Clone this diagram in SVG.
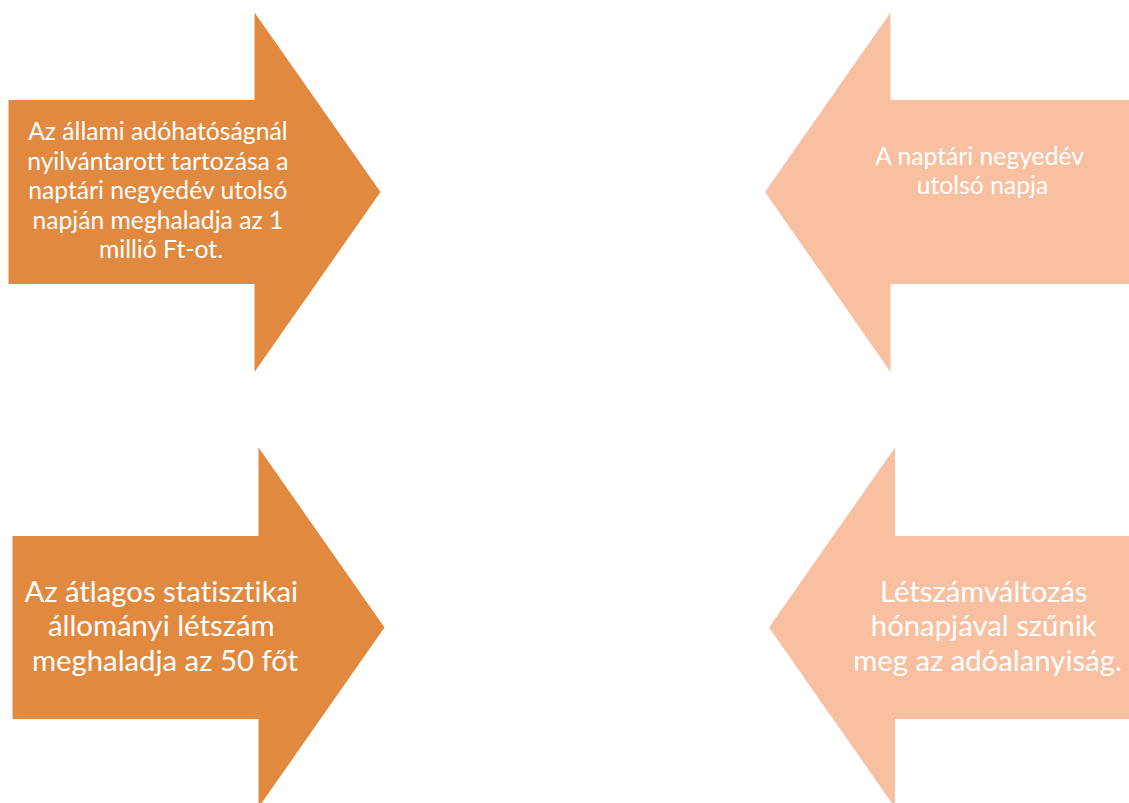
<svg xmlns="http://www.w3.org/2000/svg" width="1129" height="803" viewBox="0 0 1129 803">
  <style>
    .dark { fill: #E0893F; }
    .light { fill: #F8BFA0; }
    .label { fill: #FFFFFF; font-family: Lato, "Liberation Sans", sans-serif; text-anchor: middle; font-variant-ligatures: none; }
    .small { font-size: 24.7px; }
    .large { font-size: 29.3px; }
  </style>
  <rect width="1129" height="803" fill="#FFFFFF"/>

  <!-- top-left block arrow, pointing right -->
  <g id="node-debt">
    <polygon class="dark" points="8.5,100 254.5,100 254.5,12.5 380.5,192 254.5,372 254.5,284 8.5,284"/>
    <text class="label small">
      <tspan x="161" y="140">Az állami adóhatóságnál</tspan>
      <tspan x="161" y="169.5">nyilvántarott tartozása a</tspan>
      <tspan x="161" y="199">naptári negyedév utolsó</tspan>
      <tspan x="161" y="228.5">napján meghaladja az 1</tspan>
      <tspan x="161" y="258">millió Ft-ot.</tspan>
    </text>
  </g>

  <!-- top-right block arrow, pointing left -->
  <g id="node-quarter-end">
    <polygon class="light" points="1129,100 890.5,100 890.5,12.5 765,192 890.5,372 890.5,284 1129,284"/>
    <text class="label small">
      <tspan x="982.5" y="165">A naptári negyedév</tspan>
      <tspan x="982.5" y="193.5">utolsó napja</tspan>
    </text>
  </g>

  <!-- bottom-left block arrow, pointing right -->
  <g id="node-headcount">
    <polygon class="dark" points="12.5,536 258.5,536 258.5,447.5 384.5,627.5 258.5,807.5 258.5,719 12.5,719"/>
    <text class="label large">
      <tspan x="165" y="601.5">Az átlagos statisztikai</tspan>
      <tspan x="165" y="636">állományi létszám</tspan>
      <tspan x="165" y="670.5">meghaladja az 50 főt</tspan>
    </text>
  </g>

  <!-- bottom-right block arrow, pointing left -->
  <g id="node-cessation">
    <polygon class="light" points="1129,536 895,536 895,447.5 769,627.5 895,807.5 895,719 1129,719"/>
    <text class="label large">
      <tspan x="987.5" y="601.5">Létszámváltozás</tspan>
      <tspan x="987.5" y="636">hónapjával szűnik</tspan>
      <tspan x="987.5" y="670.5">meg az adóalanyiság.</tspan>
    </text>
  </g>
</svg>
